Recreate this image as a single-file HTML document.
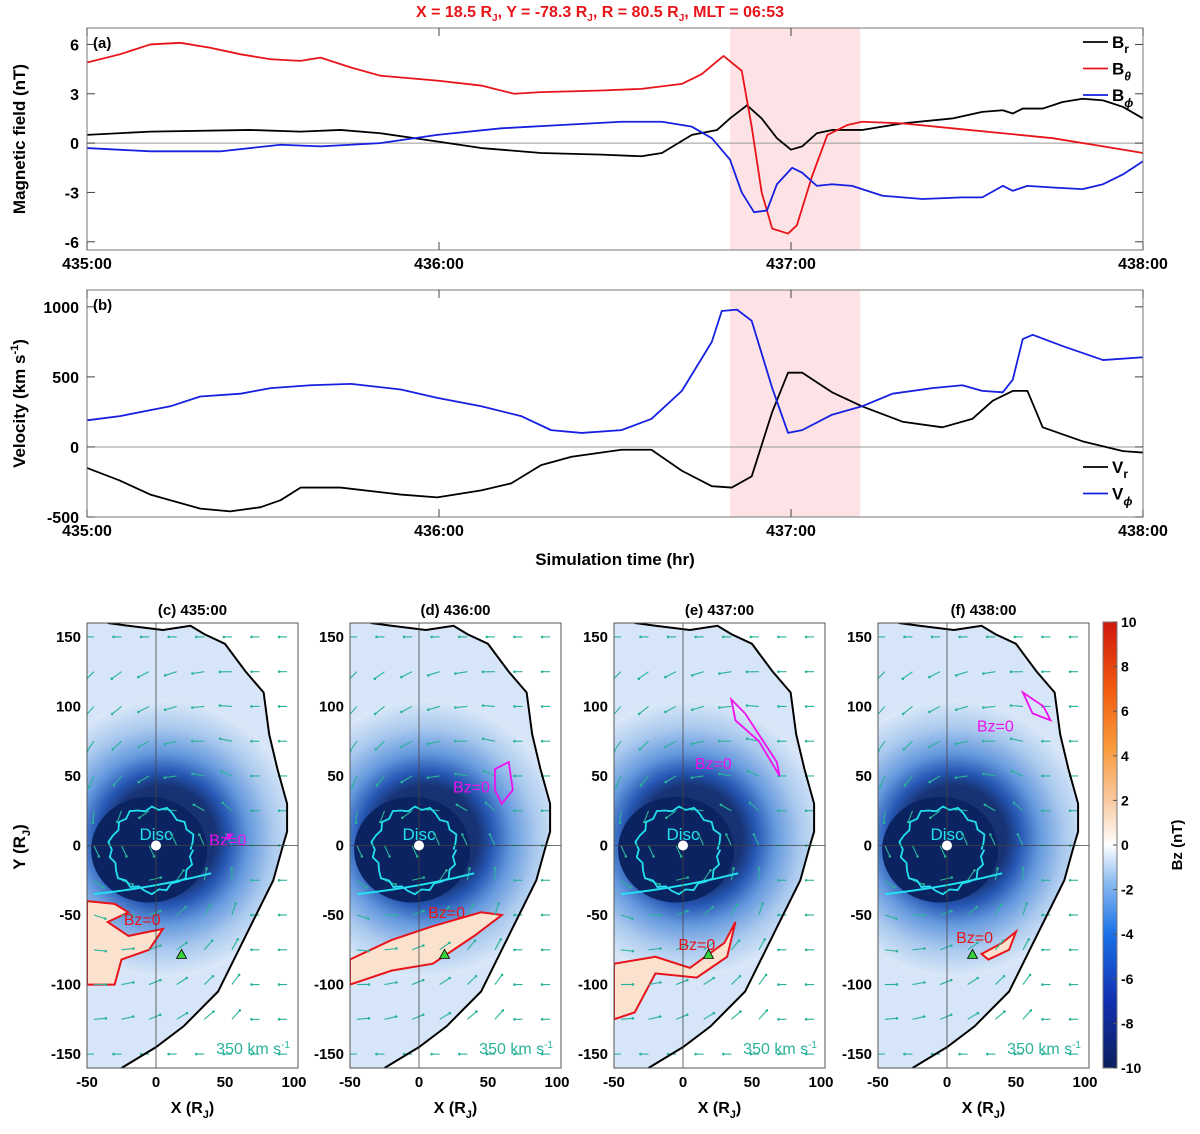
<!DOCTYPE html>
<html><head><meta charset="utf-8"><style>
body{margin:0;background:#fff;}
svg text{font-family:"Liberation Sans",Arial,sans-serif;}
</style></head><body>
<svg id="fig" width="1200" height="1129" xmlns="http://www.w3.org/2000/svg">
<defs>
<linearGradient id="cbar" x1="0" y1="1" x2="0" y2="0">
<stop offset="0" stop-color="#0b1f5e"/><stop offset="0.15" stop-color="#1230b0"/><stop offset="0.3" stop-color="#1a70e8"/><stop offset="0.42" stop-color="#8fbef0"/><stop offset="0.5" stop-color="#ffffff"/><stop offset="0.6" stop-color="#f8c9a0"/><stop offset="0.72" stop-color="#f99a3a"/><stop offset="0.85" stop-color="#f25a10"/><stop offset="1" stop-color="#d0180e"/>
</linearGradient>
<radialGradient id="blob" cx="0.5" cy="0.5" r="0.5">
<stop offset="0" stop-color="#0b2360"/><stop offset="0.38" stop-color="#0d2a6e"/><stop offset="0.48" stop-color="#1d4fb0"/><stop offset="0.62" stop-color="#5f95dc"/><stop offset="0.8" stop-color="#a8c8ee"/><stop offset="1" stop-color="#dce9f8"/>
</radialGradient>
</defs>
<text x="600" y="17" text-anchor="middle" font-size="16" font-weight="bold" fill="#e8141a">X = 18.5 R<tspan font-size="10" dy="4">J</tspan><tspan dy="-4">, Y = -78.3 R</tspan><tspan font-size="10" dy="4">J</tspan><tspan dy="-4">, R = 80.5 R</tspan><tspan font-size="10" dy="4">J</tspan><tspan dy="-4">, MLT = 06:53</tspan></text>
<g id="ts"></g>
<g id="maps"></g>
</svg>
<script>
// ---- time series data (minutes after 435:00) ----
const tBr=[0,10.8,27.9,36.4,43.2,50,59.7,67.2,77.4,87.7,94.5,98,103.1,107.4,109.6,112.5,115,117.6,120,121.9,124.4,127,132.1,139,147.5,152.6,156.1,157.8,159.5,162.9,166.3,169.7,173.2,176.6,180];
const vBr=[0.5,0.7,0.8,0.7,0.8,0.6,0.1,-0.3,-0.6,-0.7,-0.8,-0.6,0.5,0.8,1.5,2.3,1.5,0.3,-0.4,-0.2,0.6,0.8,0.8,1.2,1.5,1.9,2.0,1.8,2.1,2.1,2.5,2.7,2.6,2.2,1.5];
const tBt=[0,5.6,10.8,15.9,21,26.2,31.3,36.4,39.8,45,50,59.7,67.2,72.8,77.4,87.7,94.5,101.4,104.8,108.5,111.6,113.3,115,116.8,119.5,121,123.6,126.2,129.6,132.1,139,147.5,156.1,164.6,173.2,180];
const vBt=[4.9,5.4,6.0,6.1,5.8,5.4,5.1,5.0,5.2,4.6,4.1,3.8,3.5,3.0,3.1,3.2,3.3,3.6,4.2,5.3,4.4,1.0,-3.0,-5.2,-5.5,-5.0,-2.0,0.5,1.1,1.3,1.2,0.9,0.6,0.3,-0.2,-0.6];
const tBp=[0,10.8,22.7,33,39.8,50,59.7,70.6,80.9,91.1,98,103.1,106.5,109.6,111.6,113.7,115.9,117.6,120.2,121.9,124.4,127,130.4,135.6,142.4,149.2,152.6,156.1,157.8,160.3,164.6,169.7,173.2,176.6,180];
const vBp=[-0.3,-0.5,-0.5,-0.1,-0.2,0.0,0.5,0.9,1.1,1.3,1.3,1.0,0.3,-1.0,-3.0,-4.2,-4.1,-2.5,-1.5,-1.8,-2.6,-2.5,-2.6,-3.2,-3.4,-3.3,-3.3,-2.6,-2.9,-2.6,-2.7,-2.8,-2.5,-1.9,-1.1];
const tVp=[0,5.6,14.2,19.3,26.2,31.3,38.1,45,53.5,59.7,67.2,74,79.1,84.3,91.1,96.2,101.4,106.5,108.2,110.8,113.3,116.8,119.5,121.9,127,132.1,137.3,144.1,149.2,152.6,156.1,157.8,159.5,161.2,166.3,173.2,180];
const vVp=[190,220,290,360,380,420,440,450,410,350,290,220,120,100,120,200,400,750,970,980,900,420,100,120,230,290,380,420,440,400,390,480,770,800,720,620,640];
const tVr=[0,5.6,10.8,19.3,24.4,29.6,33,36.4,43.2,53.5,59.7,67.2,72.3,77.4,82.6,91.1,96.2,101.4,106.5,109.9,113.3,116.8,119.5,121.9,127,132.1,139,145.8,150.9,154.4,157.8,160.3,162.9,169.7,176.6,180];
const vVr=[-150,-240,-340,-440,-460,-430,-380,-290,-290,-340,-360,-310,-260,-130,-70,-20,-20,-170,-280,-290,-210,250,530,530,390,290,180,140,200,330,400,400,140,40,-30,-40];
const tickLabels=["435:00","436:00","437:00","438:00"];
const bTicks=[6,3,0,-3,-6];
const vTicks=[1000,500,0,-500];
const shadeStart=109.6, shadeEnd=131.8;
// ---- map data ----
const mapTitles=["(c) 435:00","(d) 436:00","(e) 437:00","(f) 438:00"];
const mapLeft=[87,350,614,878];
const xTicksMap=[-50,0,50,100];
const yTicksMap=[150,100,50,0,-50,-100,-150];
const cbTicks=[10,8,6,4,2,0,-2,-4,-6,-8,-10];

const NS="http://www.w3.org/2000/svg";
function mk(tag,attrs,parent,txt){const e=document.createElementNS(NS,tag);for(const k in attrs)e.setAttribute(k,attrs[k]);if(txt!==undefined)e.textContent=txt;parent.appendChild(e);return e;}
const ts=document.getElementById('ts');
const X0=87,X1=1143;
const xs=t=>X0+t/180*(X1-X0);

function panel(top,bot,ymin,ymax,ticks,series,colors,label,ylab,legend){
  const ys=v=>bot-(v-ymin)/(ymax-ymin)*(bot-top);
  const g=mk('g',{},ts);
  
  
  const sh=mk('rect',{x:xs(shadeStart),y:top,width:xs(shadeEnd)-xs(shadeStart),height:bot-top,fill:'#fde3e6'},g);
  
  
  mk('line',{x1:X0,x2:X1,y1:ys(0),y2:ys(0),stroke:'#999','stroke-width':1},g);
  series.forEach((s,i)=>{
    const p=mk('polyline',{points:s[0].map((t,j)=>xs(t)+','+ys(s[1][j])).join(' '),fill:'none',stroke:colors[i],'stroke-width':1.8,'stroke-linejoin':'round'},g);
    
    
  });
  mk('rect',{x:X0,y:top,width:X1-X0,height:bot-top,fill:'none',stroke:'#777','stroke-width':1},g);
  ticks.forEach(v=>{
    mk('line',{x1:X0,x2:X0+8,y1:ys(v),y2:ys(v),stroke:'#444'},g);
    mk('line',{x1:X1,x2:X1-8,y1:ys(v),y2:ys(v),stroke:'#444'},g);
    const t=mk('text',{x:X0-8,y:ys(v)+6,'text-anchor':'end','font-size':16,'font-weight':'bold'},g,v);
    
    
  });
  tickLabels.forEach((l,i)=>{
    const x=xs(i*60);
    mk('line',{x1:x,x2:x,y1:bot,y2:bot-8,stroke:'#444'},g);
    mk('line',{x1:x,x2:x,y1:top,y2:top+8,stroke:'#444'},g);
    const t=mk('text',{x:x,y:bot+19,'text-anchor':'middle','font-size':16,'font-weight':'bold'},g,l);
    
    
  });
  mk('text',{x:X0+6,y:top+20,'font-size':15,'font-weight':'bold'},g,label);
  const yl=mk('text',{transform:`translate(25,${(top+bot)/2}) rotate(-90)`,'text-anchor':'middle','font-size':17,'font-weight':'bold'},g);
  yl.innerHTML=ylab;
  
  
  legend.forEach((l,i)=>{
    const ly=legend.y0+i*26.5;
    mk('line',{x1:1083,x2:1108,y1:ly,y2:ly,stroke:colors[i],'stroke-width':1.8},g);
    const t=mk('text',{x:1112,y:ly+6,'font-size':17,'font-weight':'bold'},g);
    t.innerHTML=l[1];
    
    
  });
}
const legA=[['br','B<tspan font-size="12" dy="5">r</tspan>'],['btheta','B<tspan font-size="12" dy="6" font-style="italic">θ</tspan>'],['bphi','B<tspan font-size="12" dy="6" font-style="italic">ϕ</tspan>']];legA.y0=42;
panel(28,250,-6.5,7,bTicks,[[tBr,vBr],[tBt,vBt],[tBp,vBp]],['#000','#e8141a','#1520e0'],'(a)','Magnetic field (nT)',legA);
const legB=[['vr','V<tspan font-size="12" dy="5">r</tspan>'],['vphi','V<tspan font-size="12" dy="6" font-style="italic">ϕ</tspan>']];legB.y0=467;
panel(290,517,-500,1120,vTicks,[[tVr,vVr],[tVp,vVp]],['#000','#1520e0'],'(b)','Velocity (km s<tspan font-size="11" dy="-7">-1</tspan><tspan dy="7">)</tspan>',legB);
const xt=mk('text',{x:615,y:565,'text-anchor':'middle','font-size':17,'font-weight':'bold'},ts,'Simulation time (hr)');



// ---- maps ----
const maps=document.getElementById('maps');
const MT=623,MB=1068, PX=1.38, PY=(MB-MT)/320;
const boundary=[[-35,160],[-20,158],[5,155],[25,158],[35,152],[50,145],[65,125],[78,110],[82,80],[88,55],[95,30],[95,10],[92,0],[85,-25],[70,-55],[55,-85],[45,-105],[20,-130],[0,-145],[-25,-160]];
const redRegions=[
 [[-50,-40],[-30,-42],[-20,-48],[-35,-55],[-20,-65],[5,-60],[-5,-75],[-25,-82],[-30,-100],[-50,-100]],
 [[-50,-82],[-20,-68],[10,-58],[45,-48],[60,-50],[40,-65],[10,-85],[-20,-90],[-50,-100]],
 [[-50,-85],[-20,-80],[5,-88],[30,-70],[38,-55],[32,-80],[10,-95],[-20,-92],[-35,-120],[-50,-125]],
 [[25,-78],[40,-70],[50,-62],[45,-75],[30,-82]]];
const redLabel=[[-10,-57],[20,-52],[10,-75],[20,-70]];
const pink=[[[52,5],[55,8],[52,8]],[[55,55],[65,60],[68,40],[60,30],[55,40]],[[35,105],[45,95],[68,60],[70,50],[55,75],[38,90]],[[55,110],[70,100],[75,90],[62,95]]];
const pinkLabel=[[52,0],[38,38],[22,55],[35,82]];
mapTitles.forEach((title,k)=>{
  const L=mapLeft[k];
  const x0=L+50*PX;const y0=MT+160*PY;
  const X=v=>x0+v*PX, Y=v=>y0-v*PY;
  const g=mk('g',{},maps);
  
  
  const W=150*PX+4;
  mk('clipPath',{id:'cp'+k},g);
  mk('rect',{x:L,y:MT,width:W,height:MB-MT},g.lastChild);
  const c=mk('g',{'clip-path':`url(#cp${k})`},g);
  const bpts=boundary.map(p=>X(p[0])+','+Y(p[1])).join(' ');
  const inner=bpts+' '+X(-60)+','+Y(-170)+' '+X(-60)+','+Y(170);
  mk('clipPath',{id:'ib'+k},g);
  mk('polygon',{points:inner},g.lastChild);
  const ci=mk('g',{'clip-path':`url(#ib${k})`},c);
  mk('polygon',{points:inner,fill:'#d6e5f7'},ci);
  mk('ellipse',{cx:X(5),cy:Y(5),rx:100*PX,ry:100*PY,fill:'url(#blob)',opacity:0.95},ci);
  mk('ellipse',{cx:X(-5),cy:Y(-3),rx:42*PX,ry:38*PY,fill:'#0b2360'},ci);
  redRegions[k].length&&mk('polygon',{points:redRegions[k].map(p=>X(p[0])+','+Y(p[1])).join(' '),fill:'#fbe2cf',stroke:'#e8141a','stroke-width':2},c);
  // arrows
  for(let yy=150;yy>=-150;yy-=25){for(let xx=-45;xx<=100;xx+=20){
    const out=(xx>70||Math.abs(yy)>130);
    const ang=out?Math.PI:(Math.atan2(yy,xx)+2.0);
    const len=out?8:12;
    const ax=X(xx),ay=Y(yy),bx=ax+Math.cos(ang)*len,by=ay-Math.sin(ang)*len;
    mk('line',{x1:ax,y1:ay,x2:bx,y2:by,stroke:'#2ab39a','stroke-width':1.1},c);
    mk('circle',{cx:bx,cy:by,r:1.3,fill:'#2ab39a'},c);
  }}
  let d='';for(let i=0;i<=36;i++){const a=i/36*2*Math.PI;const r=30+((i*7)%5)-2;d+=(i?'L':'M')+X(-3+r*Math.cos(a))+','+Y(-3+r*Math.sin(a));}
  mk('path',{d:d,fill:'none',stroke:'#22e0f0','stroke-width':1.8},c);
  mk('path',{d:`M${X(-45)},${Y(-35)} Q${X(0)},${Y(-30)} ${X(40)},${Y(-20)}`,fill:'none',stroke:'#22e0f0','stroke-width':2},c);
  mk('polygon',{points:pink[k].map(p=>X(p[0])+','+Y(p[1])).join(' '),fill:'none',stroke:'#ee10ee','stroke-width':1.8},c);
  mk('text',{x:X(pinkLabel[k][0]),y:Y(pinkLabel[k][1]),'text-anchor':'middle','font-size':16,fill:'#ee10ee'},c,'Bz=0');
  mk('text',{x:X(redLabel[k][0]),y:Y(redLabel[k][1]),'text-anchor':'middle','font-size':16,fill:'#e8141a'},c,'Bz=0');
  mk('text',{x:X(0),y:Y(4),'text-anchor':'middle','font-size':17,fill:'#22e0f0'},c,'Disc');
  mk('polyline',{points:bpts,fill:'none',stroke:'#000','stroke-width':2},c);
  mk('line',{x1:X(0),x2:X(0),y1:MT,y2:MB,stroke:'#444','stroke-width':0.8},c);
  mk('line',{x1:L,x2:L+W,y1:Y(0),y2:Y(0),stroke:'#444','stroke-width':0.8},c);
  mk('circle',{cx:X(0),cy:Y(0),r:5,fill:'#fff'},c);
  mk('polygon',{points:`${X(18.5)},${Y(-78.3)-5} ${X(18.5)-5},${Y(-78.3)+4} ${X(18.5)+5},${Y(-78.3)+4}`,fill:'#3ad43a',stroke:'#000','stroke-width':0.8},c);
  const sc=mk('text',{x:L+W-8,y:MB-14,'text-anchor':'end','font-size':16,fill:'#2ab39a'},c);
  sc.innerHTML='350 km s<tspan font-size="10" dy="-6">-1</tspan>';
  mk('rect',{x:L,y:MT,width:W,height:MB-MT,fill:'none',stroke:'#555'},g);
  xTicksMap.forEach(v=>{mk('text',{x:X(v),y:MB+19,'text-anchor':'middle','font-size':15,'font-weight':'bold'},g,v);});
  yTicksMap.forEach(v=>{mk('text',{x:L-6,y:Y(v)+5,'text-anchor':'end','font-size':15,'font-weight':'bold'},g,v);});
  const tt=mk('text',{x:L+W/2,y:MT-8,'text-anchor':'middle','font-size':15,'font-weight':'bold'},g,title);
  
  
  const xl=mk('text',{x:L+W/2,y:MB+45,'text-anchor':'middle','font-size':16,'font-weight':'bold'},g);
  xl.innerHTML='X (R<tspan font-size="11" dy="5">J</tspan><tspan dy="-5">)</tspan>';
  
  
});
const yl=mk('text',{transform:`translate(25,847) rotate(-90)`,'text-anchor':'middle','font-size':17,'font-weight':'bold'},maps);
yl.innerHTML='Y (R<tspan font-size="11" dy="5">J</tspan><tspan dy="-5">)</tspan>';


const cb=mk('g',{},maps);


mk('rect',{x:1103,y:622,width:14,height:446,fill:'url(#cbar)',stroke:'#777'},cb);
cbTicks.forEach(v=>{const y=622+(10-v)/20*446;mk('line',{x1:1113,x2:1117,y1:y,y2:y,stroke:'#555'},cb);mk('text',{x:1121,y:y+5,'font-size':14,'font-weight':'bold'},cb,v);});
mk('text',{transform:'translate(1182,845) rotate(-90)','text-anchor':'middle','font-size':15,'font-weight':'bold'},cb,'Bz (nT)');
</script>
</body></html>
